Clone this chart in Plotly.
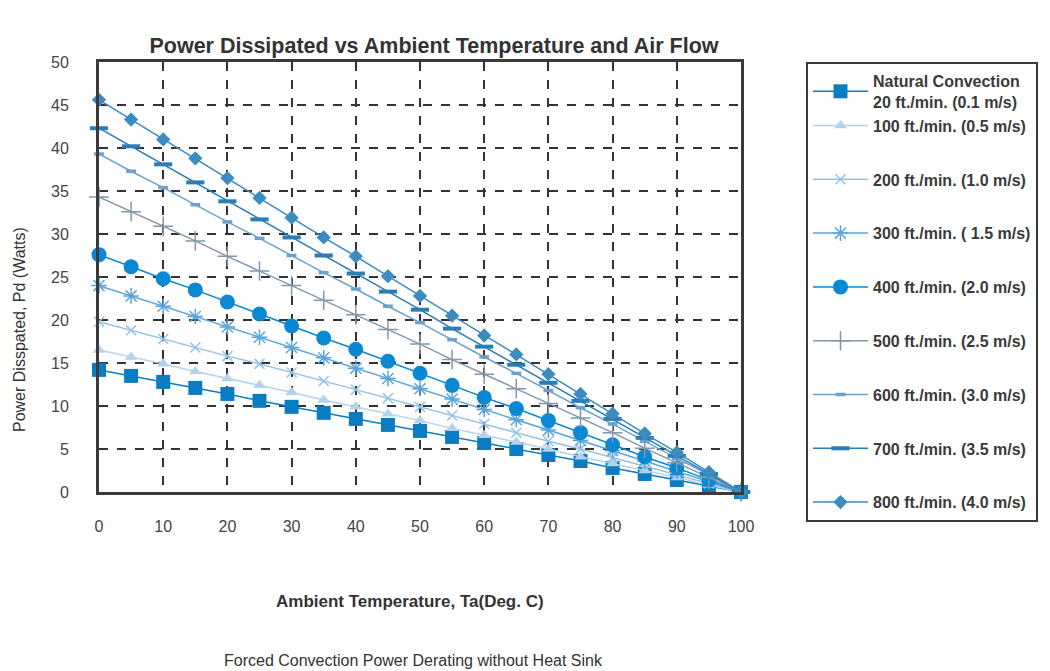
import plotly.graph_objects as go

temps = [0, 5, 10, 15, 20, 25, 30, 35, 40, 45, 50, 55, 60, 65, 70, 75, 80, 85, 90, 95, 100]

natural_20 = [14.2, 13.5, 12.8, 12.1, 11.4, 10.6, 9.9, 9.2, 8.5, 7.8, 7.1, 6.4, 5.7, 5.0, 4.3, 3.6, 2.8, 2.1, 1.4, 0.7, 0.0]
ff_100 = [16.5, 15.7, 14.9, 14.0, 13.2, 12.4, 11.6, 10.7, 9.9, 9.1, 8.3, 7.4, 6.6, 5.8, 5.0, 4.1, 3.3, 2.5, 1.7, 0.8, 0.0]
ff_200 = [19.8, 18.8, 17.8, 16.8, 15.8, 14.9, 13.9, 12.9, 11.9, 10.9, 9.9, 8.9, 7.9, 6.9, 5.9, 5.0, 4.0, 3.0, 2.0, 1.0, 0.0]
ff_300 = [24.0, 22.8, 21.6, 20.4, 19.2, 18.0, 16.8, 15.6, 14.4, 13.2, 12.0, 10.8, 9.6, 8.4, 7.2, 6.0, 4.8, 3.6, 2.4, 1.2, 0.0]
ff_400 = [27.6, 26.2, 24.8, 23.5, 22.1, 20.7, 19.3, 17.9, 16.6, 15.2, 13.8, 12.4, 11.0, 9.7, 8.3, 6.9, 5.5, 4.1, 2.8, 1.4, 0.0]
ff_500 = [34.3, 32.6, 30.9, 29.2, 27.4, 25.7, 24.0, 22.3, 20.6, 18.9, 17.2, 15.4, 13.7, 12.0, 10.3, 8.6, 6.9, 5.1, 3.4, 1.7, 0.0]
ff_600 = [39.3, 37.3, 35.4, 33.4, 31.4, 29.5, 27.5, 25.5, 23.6, 21.6, 19.7, 17.7, 15.7, 13.8, 11.8, 9.8, 7.9, 5.9, 3.9, 2.0, 0.0]
ff_700 = [42.3, 40.2, 38.1, 36.0, 33.8, 31.7, 29.6, 27.5, 25.4, 23.3, 21.2, 19.0, 16.9, 14.8, 12.7, 10.6, 8.5, 6.3, 4.2, 2.1, 0.0]
ff_800 = [45.6, 43.3, 41.0, 38.8, 36.5, 34.2, 31.9, 29.6, 27.4, 25.1, 22.8, 20.5, 18.2, 16.0, 13.7, 11.4, 9.1, 6.8, 4.6, 2.3, 0.0]

series_names = [
    "Natural Convection<br>20 ft./min. (0.1 m/s)",
    "100 ft./min. (0.5 m/s)",
    "200 ft./min. (1.0 m/s)",
    "300 ft./min. ( 1.5 m/s)",
    "400 ft./min. (2.0 m/s)",
    "500 ft./min. (2.5 m/s)",
    "600 ft./min. (3.0 m/s)",
    "700 ft./min. (3.5 m/s)",
    "800 ft./min. (4.0 m/s)",
]
series_values = [natural_20, ff_100, ff_200, ff_300, ff_400, ff_500, ff_600, ff_700, ff_800]
legend_groups = ["g0", "g0", "g2", "g3", "g4", "g5", "g6", "g7", "g8"]

x_ticks = [0, 10, 20, 30, 40, 50, 60, 70, 80, 90, 100]
y_ticks = [0, 5, 10, 15, 20, 25, 30, 35, 40, 45, 50]

styles = [
    dict(color="#0a7dc2", symbol="square", size=14, mlw=0),
    dict(color="#b3d2ec", symbol="triangle-up", size=11, mlw=0),
    dict(color="#93c2e8", symbol="x-thin-open", size=10, mlw=1.5),
    dict(color="#5aa5dc", symbol="asterisk-open", size=13, mlw=1.5),
    dict(color="#0a88d3", symbol="circle", size=15, mlw=0),
    dict(color="#8097ad", symbol="cross-thin-open", size=14, mlw=1.5),
    dict(color="#6aa3cf", symbol="line-ew-open", size=7, mlw=3.5),
    dict(color="#2a7db5", symbol="line-ew-open", size=13, mlw=4),
    dict(color="#3b8cc0", symbol="diamond", size=11, mlw=0),
]

fig = go.Figure()
for name, vals, st, grp in zip(series_names, series_values, styles, legend_groups):
    fig.add_trace(go.Scatter(
        x=temps, y=vals, name=name, mode="lines+markers",
        legendgroup=grp,
        line=dict(color=st["color"], width=1.5),
        marker=dict(symbol=st["symbol"], size=st["size"], color=st["color"],
                    line=dict(color=st["color"], width=st["mlw"])),
        cliponaxis=False,
    ))

font_family = "Liberation Sans, Arial, sans-serif"

# page body has a default 8px offset; margins compensate
OFF = 8
L, R, T, B = 99 - OFF, 1050 - 741 + OFF, 62 - OFF, 671 - 492 + OFF
PW = 741 - 99
PH = 492 - 62

def px_x(px):
    return (px - 99) / PW

def px_y(py):
    return (492 - py) / PH

fig.update_layout(
    width=1050, height=671,
    paper_bgcolor="white", plot_bgcolor="white",
    margin=dict(l=L, r=R, t=T, b=B, autoexpand=False),
    font=dict(family=font_family, color="#3a3a3a"),
    title=dict(text="<b>Power Dissipated vs Ambient Temperature and Air Flow</b>",
               x=px_x(434), xref="paper", xanchor="center",
               y=1 - (45 - OFF) / 671, yref="container", yanchor="middle",
               font=dict(size=21.5, color="#333333", family=font_family)),
    showlegend=True,
    legend=dict(
        x=px_x(806), xanchor="left", y=1.0, yanchor="top",
        bordercolor="#3a3a3a", borderwidth=2, bgcolor="white",
        font=dict(size=16, color="#3a3a3a", family=font_family, weight="bold"),
        tracegroupgap=30, itemwidth=55, maxheight=620,
    ),
)

fig.update_xaxes(
    range=[0, 100], tickvals=x_ticks, ticktext=[str(v) for v in x_ticks],
    showgrid=True, gridcolor="#333333", griddash="dash", gridwidth=2,
    showline=True, linecolor="#3a3a3a", linewidth=3, mirror=True,
    ticks="", ticklabelstandoff=18, zeroline=False,
    tickfont=dict(size=16, color="#444444"),
)
fig.update_yaxes(
    range=[0, 50], tickvals=y_ticks, ticktext=[str(v) for v in y_ticks],
    showgrid=True, gridcolor="#333333", griddash="dash", gridwidth=2,
    showline=True, linecolor="#3a3a3a", linewidth=3, mirror=True,
    ticks="", ticklabelstandoff=24, zeroline=False,
    tickfont=dict(size=16, color="#444444"),
)

fig.add_annotation(text="<b>Ambient Temperature, Ta(Deg. C)</b>", xref="paper", yref="paper",
                   x=px_x(410), y=px_y(601), xanchor="center", yanchor="middle", showarrow=False,
                   font=dict(size=17, color="#333333"))
fig.add_annotation(text="Forced Convection Power Derating without Heat Sink", xref="paper", yref="paper",
                   x=px_x(413), y=px_y(660), xanchor="center", yanchor="middle", showarrow=False,
                   font=dict(size=16, color="#333333"))
fig.add_annotation(text="Power Disspated, Pd (Watts)", xref="paper", yref="paper",
                   x=px_x(19), y=px_y(330), xanchor="center", yanchor="middle", showarrow=False,
                   textangle=-90, font=dict(size=16, color="#333333"))

fig.write_html("out.html")
